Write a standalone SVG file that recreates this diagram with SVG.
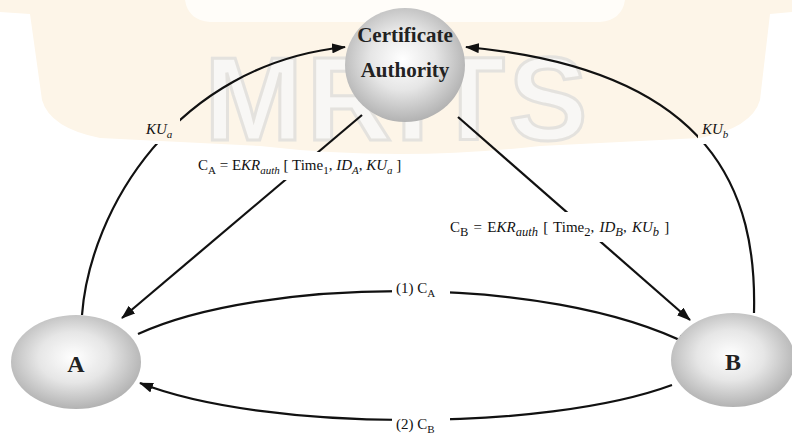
<svg xmlns="http://www.w3.org/2000/svg" width="792" height="435" viewBox="0 0 792 435">
<defs>
<style>
.node{stroke:none}
.lbl{font-family:"Liberation Serif","Times New Roman",serif;font-weight:bold;fill:#222;text-anchor:middle}
.t{font-family:"Liberation Serif","Times New Roman",serif;font-size:15px;fill:#111}
.i{font-style:italic}
.con{fill:none;stroke:#111;stroke-width:2.2}
</style>
<radialGradient id="g" cx="48%" cy="45%" r="60%">
<stop offset="0" stop-color="#ffffff"/>
<stop offset="0.45" stop-color="#e6e6e6"/>
<stop offset="1" stop-color="#a9a9a9"/>
</radialGradient>
<marker id="ah" viewBox="0 0 14 10" refX="13" refY="5" markerWidth="14" markerHeight="10" markerUnits="userSpaceOnUse" orient="auto">
<path d="M0,0 L14,5 L0,10 Z" fill="#111"/>
</marker>
<mask id="m" maskUnits="userSpaceOnUse" x="0" y="0" width="792" height="435">
<rect x="0" y="0" width="792" height="435" fill="#fff"/>
<rect x="142" y="116" width="38" height="28" fill="#000"/>
<rect x="698" y="116" width="40" height="28" fill="#000"/>
<rect x="195" y="152" width="218" height="28" fill="#000"/>
<rect x="446" y="212" width="240" height="30" fill="#000"/>
<rect x="392" y="278" width="58" height="24" fill="#000"/>
<rect x="392" y="414" width="58" height="22" fill="#000"/>
</mask>
</defs>
<rect width="792" height="435" fill="#fff"/>
<g id="watermark">
<path d="M0,0 L792,0 L792,12 L770,14 L760,100 Q752,128 700,138 L540,146 Q400,162 260,146 L100,138 Q50,128 42,100 L30,14 L0,12 Z" fill="#fdf5e8"/>
<path d="M185,0 L625,0 Q622,20 600,22 L210,22 Q188,20 185,0 Z" fill="#fffdf9"/>
<text x="398" y="140" font-family="Liberation Sans,Arial,sans-serif" font-weight="bold" font-size="118" text-anchor="middle" fill="#f8f7f5" stroke="#e4e2de" stroke-width="3" letter-spacing="4">MRITS</text>
</g>
<g id="connectors" mask="url(#m)">
<path class="con" d="M82,315 C90,210 175,65 345,47" marker-end="url(#ah)"/>
<path class="con" d="M754,313 C757,195 716,70 466,47" marker-end="url(#ah)"/>
<path class="con" d="M362,115 L122,318" marker-end="url(#ah)"/>
<path class="con" d="M458,117 L690,320" marker-end="url(#ah)"/>
<path class="con" d="M138,334 C260,278 545,272 690,345" marker-end="url(#ah)"/>
<path class="con" d="M672,385 C545,432 265,432 140,383" marker-end="url(#ah)"/>
</g>
<g id="ca">
<ellipse class="node" cx="405" cy="65" rx="60" ry="57" fill="url(#g)"/>
<text class="lbl" x="405" y="42" font-size="21">Certificate</text>
<text class="lbl" x="405" y="77" font-size="21">Authority</text>
</g>
<g id="a">
<ellipse class="node" cx="76" cy="362" rx="65" ry="47" fill="url(#g)"/>
<text class="lbl" x="76" y="372" font-size="24">A</text>
</g>
<g id="b">
<ellipse class="node" cx="733" cy="360" rx="62" ry="47" fill="url(#g)"/>
<text class="lbl" x="733" y="370" font-size="24">B</text>
</g>
<g id="labels">
<text class="t" x="146" y="134"><tspan class="i">KU</tspan><tspan class="i" font-size="11" dy="4">a</tspan></text>
<text class="t" x="702" y="134"><tspan class="i">KU</tspan><tspan class="i" font-size="11" dy="4">b</tspan></text>
<text class="t" x="198" y="170">C<tspan font-size="11" dy="4">A</tspan><tspan dy="-4"> = E</tspan><tspan class="i">KR</tspan><tspan class="i" font-size="11" dy="4">auth</tspan><tspan dy="-4"> [ Time</tspan><tspan font-size="11" dy="4">1</tspan><tspan dy="-4">, </tspan><tspan class="i">ID</tspan><tspan class="i" font-size="11" dy="4">A</tspan><tspan dy="-4">, </tspan><tspan class="i">KU</tspan><tspan class="i" font-size="11" dy="4">a</tspan><tspan dy="-4"> ]</tspan></text>
<text class="t" x="450" y="232" font-size="17" word-spacing="1.5">C<tspan font-size="12.5" dy="4">B</tspan><tspan dy="-4"> = E</tspan><tspan class="i">KR</tspan><tspan class="i" font-size="12.5" dy="4">auth</tspan><tspan dy="-4"> [ Time</tspan><tspan font-size="12.5" dy="4">2</tspan><tspan dy="-4">, </tspan><tspan class="i">ID</tspan><tspan class="i" font-size="12.5" dy="4">B</tspan><tspan dy="-4">, </tspan><tspan class="i">KU</tspan><tspan class="i" font-size="12.5" dy="4">b</tspan><tspan dy="-4"> ]</tspan></text>
<text class="t" x="396" y="293">(1) C<tspan font-size="11" dy="4">A</tspan></text>
<text class="t" x="396" y="429">(2) C<tspan font-size="11" dy="4">B</tspan></text>
</g>
</svg>
